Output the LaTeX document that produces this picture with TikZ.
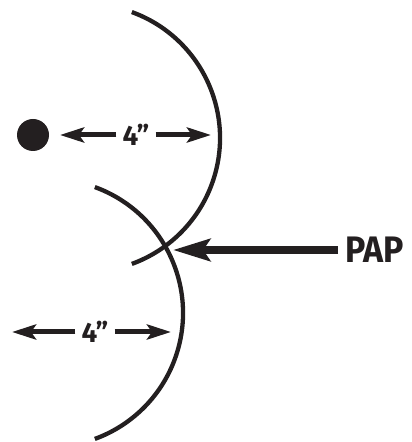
\documentclass[tikz,border=0pt]{standalone}
\usepackage{fontspec}
\setmainfont{Fira Sans}
\usetikzlibrary{arrows.meta}
\definecolor{ink}{RGB}{35,31,32}
\begin{document}
\begin{tikzpicture}[x=1bp,y=1bp,
  arcline/.style={draw=ink, line width=4.3bp},
  dimarrow/.style={draw=ink, line width=5bp, -{Stealth[length=24bp,width=15bp,inset=5bp]}},
  bigarrow/.style={draw=ink, line width=8bp, -{Stealth[length=37bp,width=22bp,inset=7bp]}},
  dimlabel/.style={text=ink, font=\fontsize{28}{28}\selectfont\bfseries, inner xsep=6bp, inner ysep=0pt},
  paplabel/.style={text=ink, font=\fontsize{37}{37}\selectfont\bfseries, inner sep=0pt, anchor=west}
]
\useasboundingbox (0,0) rectangle (411,442);
% focal dot
\node[circle, fill=ink, minimum size=32bp, inner sep=0pt] (dot) at (33,307) {};
% arcs
\draw[arcline] (86,304) ++(70:134) arc[start angle=70, end angle=-70, radius=134];
\draw[arcline] (49,129) ++(70:134) arc[start angle=70, end angle=-70, radius=134];
% upper dimension
\node[dimlabel] (d1) at (136,307) {4”};
\coordinate (d1l) at (60,307);
\coordinate (d1r) at (211,307);
\draw[dimarrow] (d1.west) -- (d1l);
\draw[dimarrow] (d1.east) -- (d1r);
% lower dimension
\node[dimlabel] (d2) at (95,110) {4”};
\coordinate (d2l) at (12,110);
\coordinate (d2r) at (171,110);
\draw[dimarrow] (d2.west) -- (d2l);
\draw[dimarrow] (d2.east) -- (d2r);
% PAP
\node[paplabel] (pap) at (345,192) {\scalebox{0.92}[1]{PAP}};
\coordinate (papt) at (173,192);
\draw[bigarrow] ([xshift=-7bp]pap.west) -- (papt);
\end{tikzpicture}
\end{document}
